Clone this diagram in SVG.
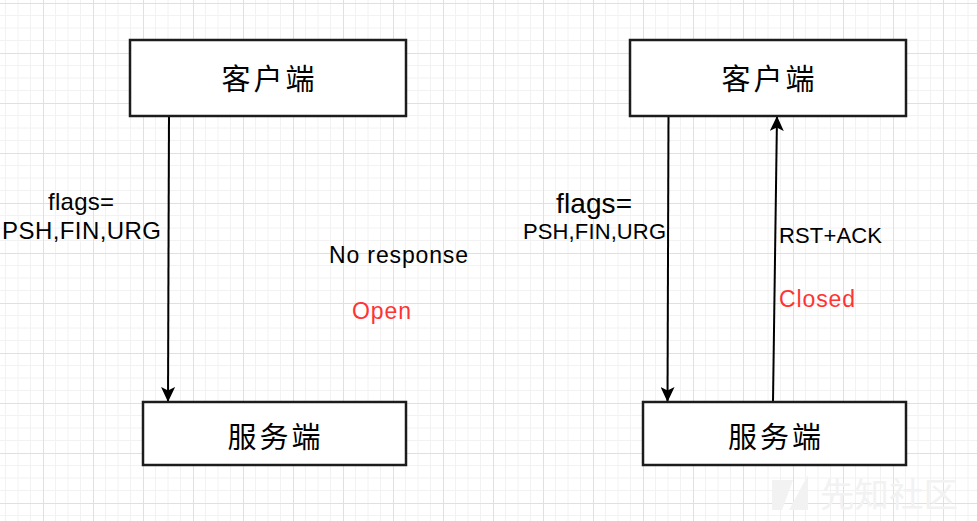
<svg xmlns="http://www.w3.org/2000/svg" width="977" height="521" viewBox="0 0 977 521">
  <style>
    .box { fill: #ffffff; stroke: #1c1c1c; stroke-width: 2.5; }
    .cjk { font-family: "Noto Sans CJK SC", "Noto Sans CJK JP", sans-serif; font-size: 29px; fill: #000000; letter-spacing: 3px; text-anchor: middle; }
    .lbl { font-family: "Liberation Sans", Arial, sans-serif; fill: #000000; }
    .red { fill: #ff3333; }
    .conn { stroke: #000000; stroke-width: 2; fill: none; marker-end: url(#arrow); }
    .wm { fill: #f2f2f2; }
  </style>
  <defs>
    <pattern id="grid" x="43" y="3" width="50" height="50" patternUnits="userSpaceOnUse">
      <path d="M12.5 0V50M25 0V50M37.5 0V50M0 12.5H50M0 25H50M0 37.5H50" stroke="#f2f2f2" stroke-width="1" fill="none"/>
      <path d="M0.5 0V50M0 0.5H50" stroke="#e0e0e0" stroke-width="1" fill="none"/>
    </pattern>
    <marker id="arrow" viewBox="0 0 15 14" refX="15" refY="7" markerWidth="15" markerHeight="14" markerUnits="userSpaceOnUse" orient="auto">
      <path d="M0,0 L15,7 L0,14 L3.5,7 Z" fill="#000000"/>
    </marker>
  </defs>
  <rect width="977" height="521" fill="#ffffff"/>
  <rect width="977" height="521" fill="url(#grid)"/>

  <g id="watermark">
    <polygon class="wm" points="772,480 793,480 782,510 772,510"/>
    <polygon class="wm" points="808,475 808,510 789,510"/>
    <text class="wm" x="820" y="507" font-family="Noto Sans CJK SC, sans-serif" font-size="34" textLength="138" lengthAdjust="spacingAndGlyphs">先知社区</text>
  </g>

  <g id="connectors">
    <line class="conn" x1="169" y1="116" x2="168" y2="402"/>
    <line class="conn" x1="668.5" y1="116" x2="667.5" y2="402"/>
    <line class="conn" x1="773" y1="402" x2="777" y2="116"/>
  </g>

  <g id="client-left">
    <rect class="box" x="130" y="40" width="276" height="76"/>
    <text class="cjk" x="269.5" y="90">客户端</text>
  </g>
  <g id="server-left">
    <rect class="box" x="143" y="402" width="263" height="63"/>
    <text class="cjk" x="275.5" y="448">服务端</text>
  </g>
  <g id="client-right">
    <rect class="box" x="630" y="40" width="276" height="76"/>
    <text class="cjk" x="769.5" y="90">客户端</text>
  </g>
  <g id="server-right">
    <rect class="box" x="643" y="402" width="263" height="63"/>
    <text class="cjk" x="776" y="448">服务端</text>
  </g>

  <g id="labels">
    <text class="lbl" x="48" y="210" font-size="24" textLength="66">flags=</text>
    <text class="lbl" x="2" y="239" font-size="24" textLength="159">PSH,FIN,URG</text>
    <text class="lbl" x="329" y="263" font-size="23" textLength="139">No response</text>
    <text class="lbl red" x="352" y="319" font-size="23" textLength="59">Open</text>
    <text class="lbl" x="556" y="213" font-size="28" textLength="76">flags=</text>
    <text class="lbl" x="523" y="239" font-size="22" textLength="143">PSH,FIN,URG</text>
    <text class="lbl" x="779" y="243" font-size="22" textLength="103">RST+ACK</text>
    <text class="lbl red" x="779" y="307" font-size="23" textLength="76">Closed</text>
  </g>
</svg>
